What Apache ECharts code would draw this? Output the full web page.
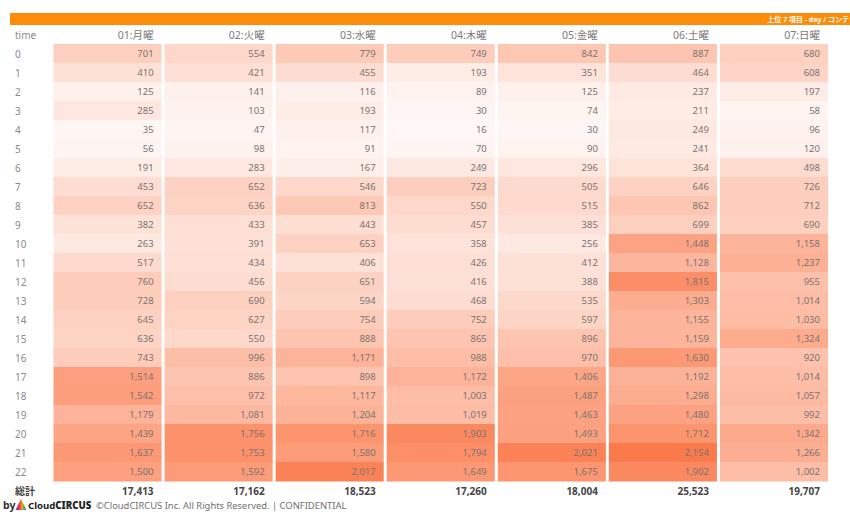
<!DOCTYPE html>
<html>
<head>
<meta charset="utf-8">
<style>
html,body{margin:0;padding:0;background:#fff;}
#chart{width:850px;height:520px;}
</style>
<script src="https://cdn.jsdelivr.net/npm/echarts@6/dist/echarts.min.js"></script>
</head>
<body>
<div id="chart"></div>
<script>
const days = ['01:月曜','02:火曜','03:水曜','04:木曜','05:金曜','06:土曜','07:日曜'];
const hours = ['0','1','2','3','4','5','6','7','8','9','10','11','12','13','14','15','16','17','18','19','20','21','22'];
const mon = [701,410,125,285,35,56,191,453,652,382,263,517,760,728,645,636,743,1514,1542,1179,1439,1637,1500];
const tue = [554,421,141,103,47,98,283,652,636,433,391,434,456,690,627,550,996,886,972,1081,1756,1753,1592];
const wed = [779,455,116,193,117,91,167,546,813,443,653,406,651,594,754,888,1171,898,1117,1204,1716,1580,2017];
const thu = [749,193,89,30,16,70,249,723,550,457,358,426,416,468,752,865,988,1172,1003,1019,1903,1794,1649];
const fri = [842,351,125,74,30,90,296,505,515,385,256,412,388,535,597,896,970,1406,1487,1463,1493,2021,1675];
const sat = [887,464,237,211,249,241,364,646,862,699,1448,1128,1815,1303,1155,1159,1630,1192,1298,1480,1712,2154,1902];
const sun = [680,608,197,58,96,120,498,726,712,690,1158,1237,955,1014,1030,1324,920,1014,1057,992,1342,1266,1002];
const totals = [17413,17162,18523,17260,18004,25523,19707];
const headerLabel = 'time';
const totalLabel = '総計';

const FONT = '"Noto Sans", "Noto Sans CJK JP", sans-serif';
const cols = [mon, tue, wed, thu, fri, sat, sun];
const cellData = [];
cols.forEach((arr, d) => arr.forEach((v, h) => cellData.push([d, hours[h], v])));
const allVals = cellData.map(c => c[2]);
const fmt = v => Number(v).toLocaleString('en-US');

const chart = echarts.init(document.getElementById('chart'), null, {renderer: 'svg'});
chart.setOption({
  backgroundColor: '#ffffff',
  animation: false,
  grid: {left: 52, right: 20.5, top: 25, bottom: 20},
  xAxis: {type: 'category', data: days, show: false},
  yAxis: {
    type: 'category', inverse: true,
    data: [headerLabel].concat(hours, [totalLabel]),
    axisLine: {show: false}, axisTick: {show: false}, splitLine: {show: false},
    axisLabel: {
      align: 'left', margin: 37, color: '#8a8a8a', fontSize: 10, fontFamily: FONT,
      formatter: v => v === totalLabel ? '{b|' + v + '}' : v,
      rich: {b: {fontWeight: 'bold', color: '#444', fontSize: 10, fontFamily: FONT}}
    }
  },
  visualMap: {
    show: false, type: 'continuous', seriesIndex: 0, dimension: 2,
    min: Math.min(...allVals), max: Math.max(...allVals),
    inRange: {color: ['#fef7f5', '#fb7a4b']}
  },
  graphic: [
    {type: 'rect', shape: {x: 10, y: 13, width: 840, height: 12}, style: {fill: '#fd8c0b'}},
    {type: 'text', x: 849, y: 19, style: {text: '上位 7 項目 - day / コンテ', fill: '#fff', fontSize: 7, fontWeight: 'bold', fontFamily: FONT, align: 'right', verticalAlign: 'middle'}},
    {type: 'text', x: 3, y: 505, style: {text: 'by', fill: '#333', fontSize: 10.5, fontWeight: 'bold', fontFamily: FONT, verticalAlign: 'middle'}},
    {type: 'polygon', shape: {points: [[21, 499], [15.5, 510], [26.5, 510]]},
      style: {fill: new echarts.graphic.LinearGradient(0, 0, 1, 0, [
        {offset: 0, color: '#8a2be2'}, {offset: 0.35, color: '#e8334a'},
        {offset: 0.6, color: '#f5a623'}, {offset: 0.8, color: '#3cb44b'}, {offset: 1, color: '#1e88e5'}])}},
    {type: 'text', x: 28, y: 505, style: {
      text: '{c|Cloud}{d|CIRCUS}', verticalAlign: 'middle',
      rich: {c: {fill: '#222', fontSize: 9.6, fontWeight: 'bold', fontFamily: FONT},
             d: {fill: '#222', fontSize: 9.6, fontWeight: 900, fontFamily: FONT}}}},
    {type: 'text', x: 96, y: 505, style: {text: '©CloudCIRCUS Inc. All Rights Reserved. | CONFIDENTIAL', fill: '#707070', fontSize: 9.4, fontFamily: FONT, verticalAlign: 'middle'}}
  ],
  series: [
    {
      type: 'custom', encode: {x: 0, y: 1}, data: cellData,
      renderItem: (params, api) => {
        const c = api.coord([api.value(0), api.value(1)]);
        const s = api.size([1, 1]);
        const x0 = c[0] - s[0] / 2 + 1.5, w = s[0] - 3;
        return {type: 'group', children: [
          {type: 'rect', shape: {x: x0, y: c[1] - s[1] / 2, width: w, height: s[1] + 0.5}, style: {fill: api.visual('color')}},
          {type: 'text', x: x0 + w - 8, y: c[1], style: {text: fmt(api.value(2)), fill: '#7a7270', fontSize: 9.5, fontFamily: FONT, align: 'right', verticalAlign: 'middle'}}
        ]};
      }
    },
    {
      type: 'custom', encode: {x: 0, y: 1},
      data: days.map((d, i) => [i, headerLabel]),
      renderItem: (params, api) => {
        const c = api.coord([api.value(0), api.value(1)]);
        const s = api.size([1, 1]);
        return {type: 'text', x: c[0] + s[0] / 2 - 9.5, y: c[1], style: {text: days[params.dataIndex], fill: '#7a7a7a', fontSize: 10.5, fontFamily: FONT, align: 'right', verticalAlign: 'middle'}};
      }
    },
    {
      type: 'custom', encode: {x: 0, y: 1},
      data: totals.map((t, i) => [i, totalLabel, t]),
      renderItem: (params, api) => {
        const c = api.coord([api.value(0), api.value(1)]);
        const s = api.size([1, 1]);
        return {type: 'text', x: c[0] + s[0] / 2 - 9.5, y: c[1], style: {text: fmt(api.value(2)), fill: '#444', fontSize: 10, fontWeight: 'bold', fontFamily: FONT, align: 'right', verticalAlign: 'middle'}};
      }
    }
  ]
});
</script>
</body>
</html>
